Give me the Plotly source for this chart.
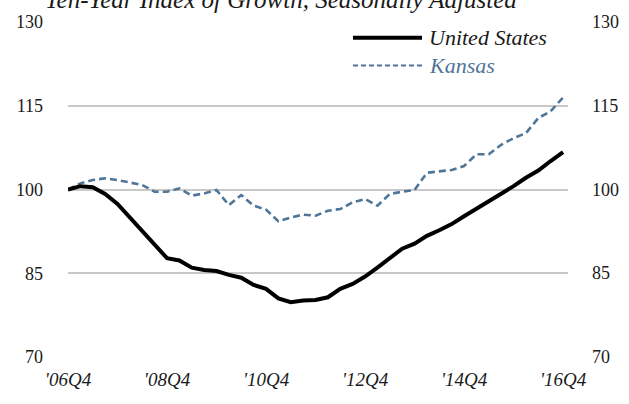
import plotly.graph_objects as go

# Quarterly index values, 2006Q4 = 100
start_year, start_q, n_quarters = 2006, 4, 41
quarters = []
for k in range(n_quarters):
    q = start_q - 1 + k
    quarters.append(f"'{(start_year + q // 4) % 100:02d}Q{q % 4 + 1}")

us_index = [100.0, 100.6, 100.4, 99.2, 97.4, 95.0, 92.7, 90.3, 87.7, 87.3,
            86.0, 85.6, 85.4, 84.7, 84.2, 82.9, 82.2, 80.5, 79.8, 80.1,
            80.2, 80.7, 82.2, 83.1, 84.4, 86.0, 87.7, 89.4, 90.3, 91.7,
            92.7, 93.8, 95.2, 96.5, 97.9, 99.1, 100.6, 102.1, 103.4, 105.1,
            106.7]
kansas_index = [100.0, 101.1, 101.7, 102.0, 101.7, 101.2, 100.8, 99.6, 99.6, 100.2,
                98.9, 99.3, 99.9, 97.2, 99.0, 97.1, 96.4, 94.3, 95.0, 95.5,
                95.3, 96.2, 96.5, 97.7, 98.3, 97.1, 99.2, 99.6, 99.9, 103.0,
                103.3, 103.5, 104.2, 106.3, 106.3, 108.0, 109.2, 110.1, 112.8, 114.0,
                116.5]
y_ticks = [70, 85, 100, 115, 130]
x_tick_step = 8

FONT = "Liberation Serif"
TEXT = "#1a1a1a"
US_COLOR = "#000000"
KS_COLOR = "#4F7598"
GRID = "#C8C8C8"

xs = list(range(len(quarters)))

fig = go.Figure()
fig.add_trace(go.Scatter(x=xs, y=kansas_index, mode="lines", name="Kansas",
                         line=dict(color=KS_COLOR, width=2.6, dash="7px,4px")))
fig.add_trace(go.Scatter(x=xs, y=us_index, mode="lines", name="United States",
                         line=dict(color=US_COLOR, width=4)))

tick_idx = list(range(0, len(quarters), x_tick_step))

fig.update_layout(
    width=629, height=404,
    margin=dict(l=68, r=61, t=19, b=47),
    paper_bgcolor="white", plot_bgcolor="white",
    showlegend=False,
    font=dict(family=FONT, color=TEXT, size=16),
    xaxis=dict(range=[0, 40.4], tickvals=tick_idx,
               ticktext=[quarters[i] for i in tick_idx],
               tickfont=dict(family=FONT, size=19, style="italic", color=TEXT),
               showgrid=False, zeroline=False, showline=False, ticks="",
               ticklabelstandoff=9),
    yaxis=dict(range=[70, 130], tickvals=y_ticks, showgrid=True,
               gridcolor=GRID, gridwidth=2, zeroline=False,
               showline=False, ticks="", ticklabelstandoff=24,
               tickfont=dict(family=FONT, size=18, color=TEXT)),
)

# Mirrored tick labels on the right-hand side, placed on the y scale
for v in y_ticks:
    fig.add_annotation(text=str(v), xref="paper", yref="y", x=1.044, y=v,
                       xanchor="left", yanchor="middle", showarrow=False,
                       font=dict(family=FONT, size=18, color=TEXT))

# Title (sits above the plot area)
fig.add_annotation(text="Ten-Year Index of Growth, Seasonally Adjusted",
                   xref="paper", yref="paper", x=0.425, y=1 + 7 / 338,
                   xanchor="center", yanchor="bottom", showarrow=False,
                   font=dict(family=FONT, size=25, style="italic", color=TEXT))

# Legend keys
legend_rows = [("United States", US_COLOR, 4, "solid", TEXT, 35),
               ("Kansas", KS_COLOR, 2, "5px,3px", KS_COLOR, 63)]
for label, color, width, dash, tcolor, ypx in legend_rows:
    yp = (357 - ypx) / 338
    fig.add_shape(type="line", xref="paper", yref="paper",
                  x0=(353 - 68) / 500, x1=(422 - 68) / 500, y0=yp, y1=yp,
                  line=dict(color=color, width=width, dash=dash))
    fig.add_annotation(text=label, xref="paper", yref="paper",
                       x=(427 - 68) / 500, y=yp, xanchor="left", yanchor="middle",
                       showarrow=False,
                       font=dict(family=FONT, size=22, style="italic", color=tcolor))

fig.write_html("out.html")
